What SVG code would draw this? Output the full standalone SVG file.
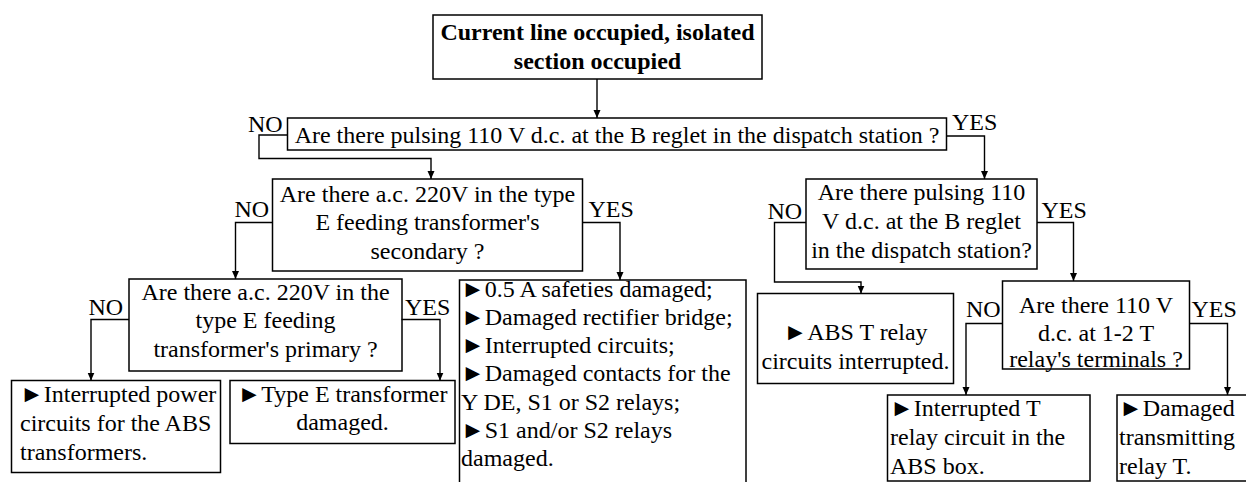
<svg xmlns="http://www.w3.org/2000/svg" width="1246" height="482" viewBox="0 0 1246 482">
<defs>
<marker id="ah" markerWidth="8" markerHeight="8" refX="8" refY="3.5" orient="auto" markerUnits="userSpaceOnUse"><path d="M0,0 L8,3.5 L0,7 z" fill="#000"/></marker>
<style>
.box{fill:#fff;stroke:#000;stroke-width:1.5}
.t{font-family:"Liberation Serif","Times New Roman",serif;font-size:24px;fill:#000}
.c{text-anchor:middle}
.b{font-weight:bold}
.ln{fill:none;stroke:#000;stroke-width:1.4;marker-end:url(#ah)}
</style>
</defs>
<rect width="1246" height="482" fill="#fff"/>
<g id="n0">
<rect class="box" x="433" y="15" width="329" height="64"/>
<text class="t c b" x="597.5" y="39.5">Current line occupied, isolated</text>
<text class="t c b" x="597.5" y="68.5">section occupied</text>
</g>
<g id="n1">
<rect class="box" x="287.5" y="118" width="659" height="32"/>
<text class="t c" x="617" y="142.5">Are there pulsing 110 V d.c. at the B reglet in the dispatch station ?</text>
</g>
<g id="n2">
<rect class="box" x="272.5" y="179" width="310" height="92"/>
<text class="t c" x="427.5" y="201.5">Are there a.c. 220V in the type</text>
<text class="t c" x="427.5" y="230">E feeding transformer's</text>
<text class="t c" x="427.5" y="258.5">secondary ?</text>
</g>
<g id="n3">
<rect class="box" x="806" y="179" width="231" height="90"/>
<text class="t c" x="921.5" y="200">Are there pulsing 110</text>
<text class="t c" x="921.5" y="229">V d.c. at the B reglet</text>
<text class="t c" x="921.5" y="257.5">in the dispatch station?</text>
</g>
<g id="n4">
<rect class="box" x="129" y="279" width="273" height="92"/>
<text class="t c" x="265.5" y="299.5">Are there a.c. 220V in the</text>
<text class="t c" x="265.5" y="328">type E feeding</text>
<text class="t c" x="265.5" y="356.5">transformer's primary ?</text>
</g>
<g id="n5">
<rect class="box" x="459.5" y="280" width="286.5" height="212"/>
<text class="t" x="461" y="296.5">►0.5 A safeties damaged;</text>
<text class="t" x="461" y="324.75">►Damaged rectifier bridge;</text>
<text class="t" x="461" y="353">►Interrupted circuits;</text>
<text class="t" x="461" y="381.25">►Damaged contacts for the</text>
<text class="t" x="461" y="409.5">Y DE, S1 or S2 relays;</text>
<text class="t" x="461" y="437.75">►S1 and/or S2 relays</text>
<text class="t" x="461" y="466">damaged.</text>
</g>
<g id="n6">
<rect class="box" x="757.5" y="293.5" width="196" height="90"/>
<text class="t c" x="855.5" y="340">►ABS T relay</text>
<text class="t c" x="855.5" y="368.5">circuits interrupted.</text>
</g>
<g id="n7">
<rect class="box" x="1002.5" y="281" width="187" height="88"/>
<text class="t c" x="1096" y="312.5">Are there 110 V</text>
<text class="t c" x="1096" y="341">d.c. at 1-2 T</text>
<text class="t c" x="1096" y="367">relay's terminals ?</text>
</g>
<g id="n8">
<rect class="box" x="11.5" y="380.5" width="209" height="92"/>
<text class="t" x="20" y="401.5">►Interrupted power</text>
<text class="t" x="20" y="430.5">circuits for the ABS</text>
<text class="t" x="20" y="459.5">transformers.</text>
</g>
<g id="n9">
<rect class="box" x="230" y="380.5" width="225" height="63"/>
<text class="t c" x="342.5" y="401.5">►Type E transformer</text>
<text class="t c" x="342.5" y="430">damaged.</text>
</g>
<g id="n10">
<rect class="box" x="887.5" y="395" width="202.5" height="86"/>
<text class="t" x="890" y="416">►Interrupted T</text>
<text class="t" x="890" y="445">relay circuit in the</text>
<text class="t" x="890" y="473.5">ABS box.</text>
</g>
<g id="n11">
<rect class="box" x="1117" y="395" width="140" height="86"/>
<text class="t" x="1119" y="416">►Damaged</text>
<text class="t" x="1119" y="445">transmitting</text>
<text class="t" x="1119" y="473.5">relay T.</text>
</g>
<g id="connectors">
<path class="ln" d="M597,79 V118"/>
<path class="ln" d="M287.5,135 H259 V158.5 H431 V179"/>
<path class="ln" d="M946.5,136 H984.5 V179"/>
<path class="ln" d="M272.5,222.5 H235.5 V279"/>
<path class="ln" d="M582.5,222.5 H620 V280"/>
<path class="ln" d="M806,222.5 H774.5 V282 H861 V293.5"/>
<path class="ln" d="M1037,222.5 H1073.5 V281"/>
<path class="ln" d="M129,319.5 H91 V380.5"/>
<path class="ln" d="M401.5,319.5 H440 V380.5"/>
<path class="ln" d="M1002.5,323.5 H966 V395"/>
<path class="ln" d="M1189.5,323.5 H1227.5 V395"/>
<text class="t" x="248" y="131.5">NO</text>
<text class="t" x="952" y="130">YES</text>
<text class="t" x="234.5" y="216.5">NO</text>
<text class="t" x="588.5" y="217">YES</text>
<text class="t" x="767.5" y="218.5">NO</text>
<text class="t" x="1041.5" y="217.5">YES</text>
<text class="t" x="88.5" y="315">NO</text>
<text class="t" x="405" y="315">YES</text>
<text class="t" x="966" y="316.5">NO</text>
<text class="t" x="1191.5" y="316.5">YES</text>
</g>
</svg>
